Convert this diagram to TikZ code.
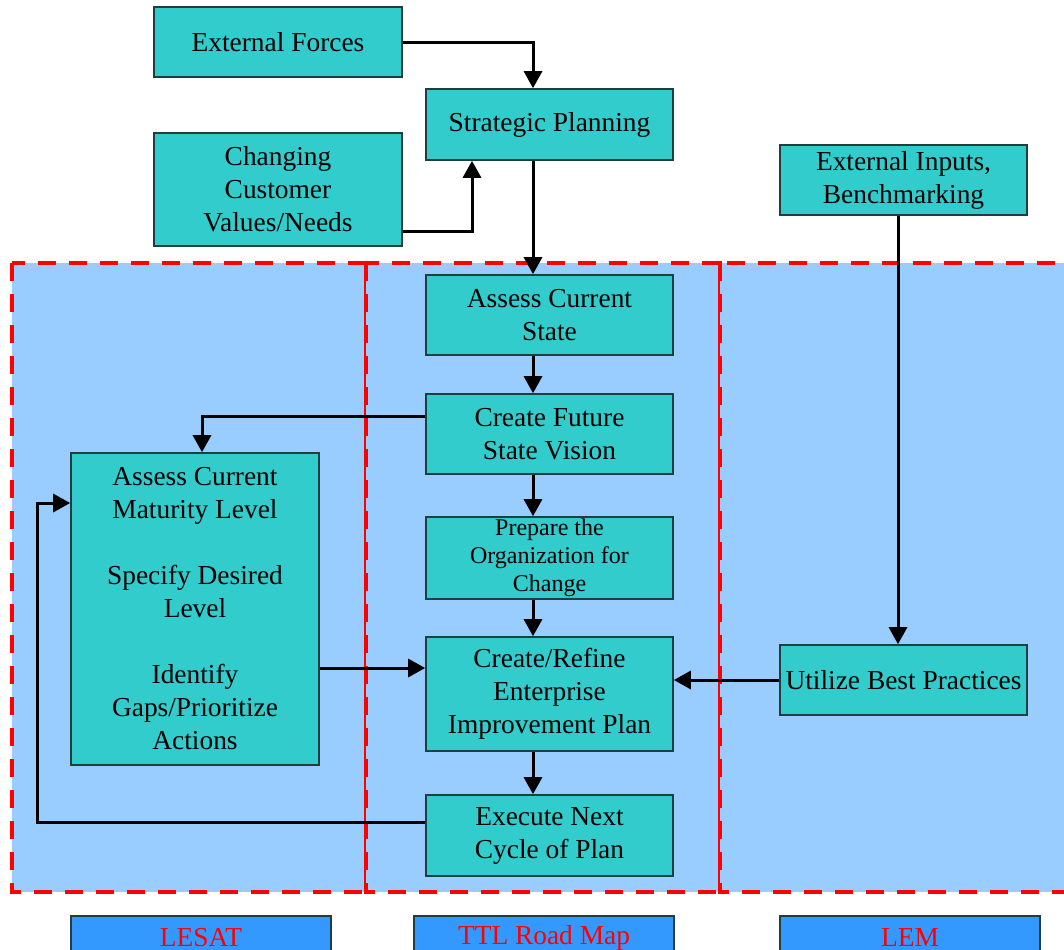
\documentclass[tikz,border=0pt]{standalone}
\usepackage{fontspec}
\setmainfont{Liberation Serif}
\usetikzlibrary{arrows.meta,calc}
\definecolor{regionblue}{HTML}{99CCFF}
\definecolor{boxteal}{HTML}{33CCCC}
\definecolor{labelblue}{HTML}{3399FF}
\definecolor{boxedge}{HTML}{1F3F3F}
\begin{document}
\begin{tikzpicture}[x=0.5pt,y=-0.5pt,
  region/.style={draw=red, line width=2pt, dash pattern=on 9pt off 6.5pt, fill=regionblue},
  box/.style={draw=boxedge, line width=0.8pt, fill=boxteal, align=center,
    font=\fontsize{13.7}{16.5}\selectfont, inner sep=0pt, minimum width=123.5pt},
  smallbox/.style={box, font=\fontsize{12}{14}\selectfont},
  labelbox/.style={draw=boxedge, line width=0.8pt, fill=labelblue, text=red,
    font=\fontsize{13.7}{16.5}\selectfont, inner sep=0pt, minimum width=130pt, minimum height=22pt},
  arr/.style={line width=1.5pt, -{Triangle[width=9pt,length=8.5pt]}},
  line/.style={line width=1.5pt}]
\useasboundingbox (0,0) rectangle (1064,949);
% regions
\path[region] (12,263) rectangle (366,892);
\path[region] (366,263) rectangle (720,892);
\path[region] (720,263) rectangle (1080,892);
% helper coordinates
\coordinate (mx) at (533,0);
\coordinate (lx) at (472,0);
\coordinate (ax) at (202,0);
\coordinate (bx) at (898,0);
\coordinate (fx) at (37,0);
\coordinate (y668) at (0,668);
\coordinate (y503) at (0,503);
\coordinate (y822) at (0,822);
\coordinate (y416) at (0,416);
\coordinate (y231) at (0,231);
% boxes
\node[box, minimum width=124pt, minimum height=35pt] (ef) at (278,42) {External Forces};
\node[box, minimum height=35.5pt] (sp) at (549.5,124.5) {Strategic Planning};
\node[box, minimum width=124pt, minimum height=56.5pt] (cc) at (278,189.5) {Changing\\Customer\\Values/Needs};
\node[box, minimum height=35pt] (ei) at (903.5,180) {External Inputs,\\Benchmarking};
\node[box, minimum height=40pt] (acs) at (549.5,315) {Assess Current\\State};
\node[box, minimum height=40pt] (cfs) at (549.5,434) {Create Future\\State Vision};
\node[smallbox, minimum height=41pt] (prep) at (549.5,558) {Prepare the\\Organization for\\Change};
\node[box, minimum height=57pt] (cr) at (549.5,694) {Create/Refine\\Enterprise\\Improvement Plan};
\node[box, minimum height=40.5pt] (ex) at (549.5,835.5) {Execute Next\\Cycle of Plan};
\node[box, minimum width=124pt, minimum height=156pt] (am) at (195,609) {Assess Current\\Maturity Level\\[16.5pt]Specify Desired\\Level\\[16.5pt]Identify\\Gaps/Prioritize\\Actions};
\node[box, minimum height=35pt] (ub) at (903.5,680) {Utilize Best Practices};
% labels
\node[labelbox] (lesat) at (201,938) {LESAT};
\node[labelbox] (ttl) at (544,938) {TTL Road Map};
\node[labelbox] (lem) at (910,938) {LEM};
% connectors
\draw[arr] (ef.east) -| (sp.north -| mx);
\draw[arr] (cc.east |- y231) -| (sp.south -| lx);
\draw[arr] (sp.south -| mx) -- (acs.north -| mx);
\draw[arr] (acs.south -| mx) -- (cfs.north -| mx);
\draw[arr] (cfs.west |- y416) -| (am.north -| ax);
\draw[arr] (cfs.south -| mx) -- (prep.north -| mx);
\draw[arr] (prep.south -| mx) -- (cr.north -| mx);
\draw[arr] (am.east |- y668) -- (cr.west |- y668);
\draw[arr] (ub.west) -- (cr.east |- ub.west);
\draw[arr] (ei.south -| bx) -- (ub.north -| bx);
\draw[arr] (cr.south -| mx) -- (ex.north -| mx);
\draw[arr] (ex.west |- y822) -| (fx |- y503) -- (am.west |- y503);
\end{tikzpicture}
\end{document}
